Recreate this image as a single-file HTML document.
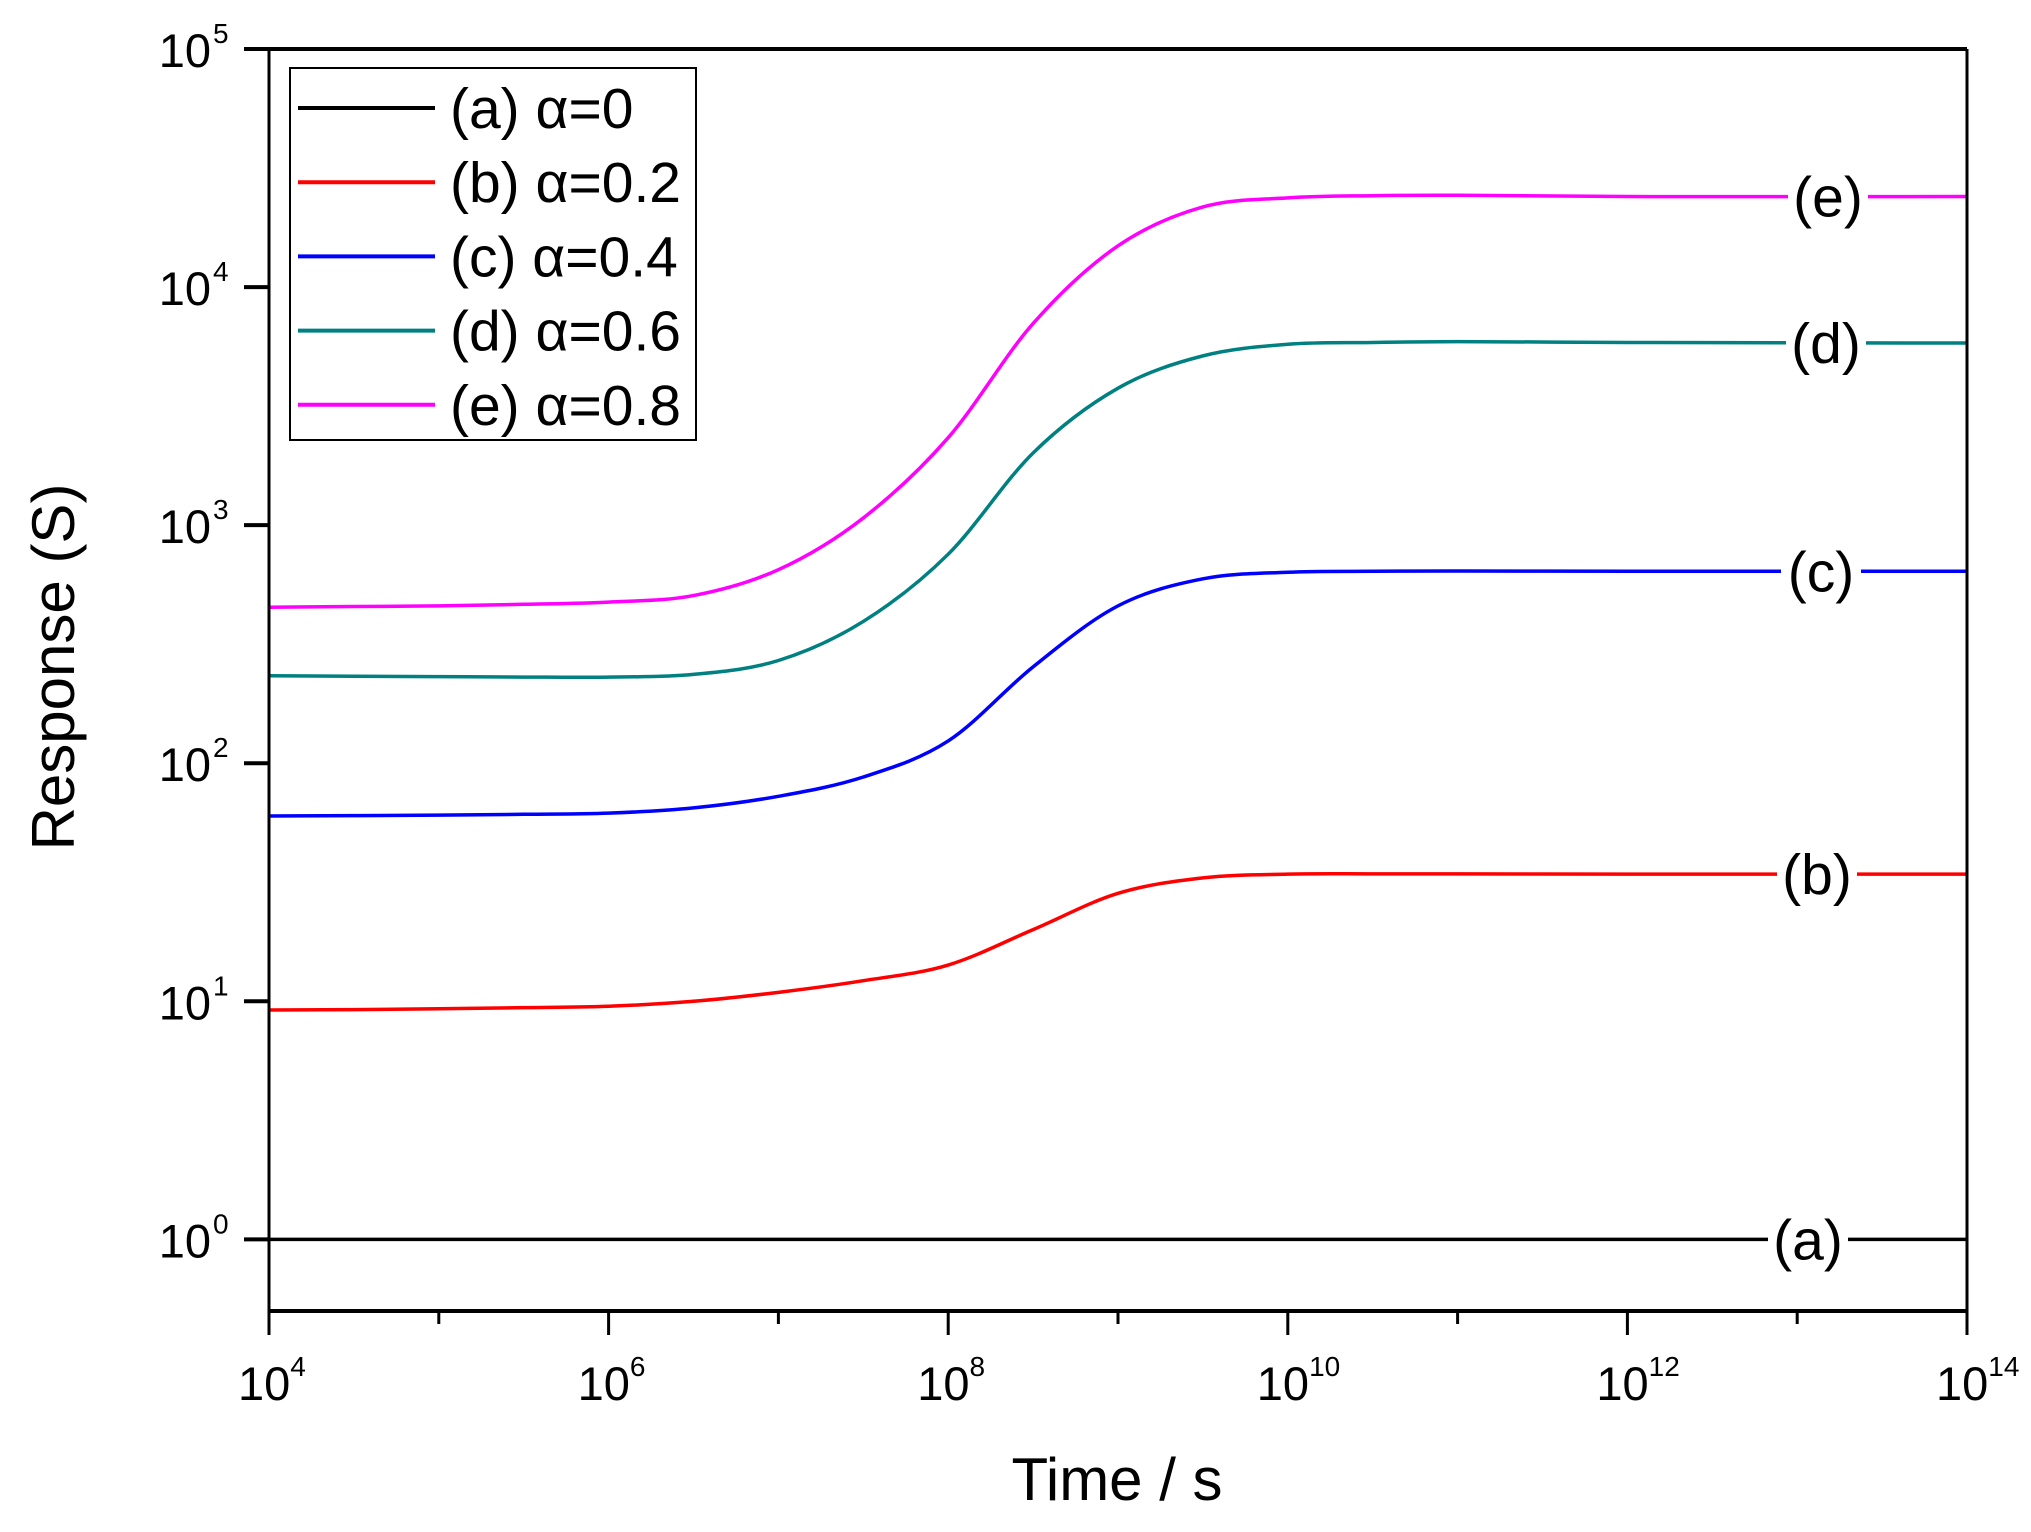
<!DOCTYPE html>
<html><head><meta charset="utf-8"><style>
html,body{margin:0;padding:0;background:#fff;}
svg{display:block;}
.tk{font-family:"Liberation Sans",sans-serif;font-size:47px;fill:#000;}
.sup{font-size:28px;}
.lg{font-family:"Liberation Sans",sans-serif;font-size:57px;fill:#000;}
.ttl{font-family:"Liberation Sans",sans-serif;font-size:60px;fill:#000;}
</style></head><body>
<svg id="chart" width="2031" height="1532" viewBox="0 0 2031 1532">
<g id="plot"></g>
</svg>
<script>
const xExp = [4, 4.5, 5, 5.5, 6, 6.5, 7, 7.5, 8, 8.5, 9, 9.5, 10, 10.5, 11, 12, 14];
const seriesA = [1, 1, 1, 1, 1, 1, 1, 1, 1, 1, 1, 1, 1, 1, 1, 1, 1];
const seriesB = [9.19, 9.22, 9.3, 9.4, 9.53, 10.0, 10.9, 12.2, 14.2, 20, 28.4, 33, 34.2, 34.3, 34.3, 34.2, 34.2];
const seriesC = [60, 60.2, 60.5, 61, 61.7, 64.9, 72.6, 87.5, 124, 254, 458, 595, 634, 640, 642, 640, 640];
const seriesD = [233, 232, 231, 230, 230, 236, 270, 394, 755, 2010, 3760, 5140, 5750, 5850, 5900, 5850, 5820];
const seriesE = [452, 455, 458, 465, 475, 506, 650, 1072, 2330, 7030, 14900, 21700, 23700, 24200, 24300, 24000, 24000];
const seriesNames = ["(a) α=0", "(b) α=0.2", "(c) α=0.4", "(d) α=0.6", "(e) α=0.8"];
const curveTags = ["(a)", "(b)", "(c)", "(d)", "(e)"];
const xTickExp = [4, 6, 8, 10, 12, 14];
const xMinorExp = [5, 7, 9, 11, 13];
const yTickExp = [0, 1, 2, 3, 4, 5];

const X0 = 269, X1 = 1967, Y0 = 1311, Y1 = 49;
const xMin = 4, xMax = 14, yMin = Math.log10(0.5), yMax = 5;
function xs(e){ return X0 + (e - xMin) / (xMax - xMin) * (X1 - X0); }
function ys(v){ return Y0 - (Math.log10(v) - yMin) / (yMax - yMin) * (Y0 - Y1); }
const NS = "http://www.w3.org/2000/svg";
const svg = document.getElementById('chart');
function mk(tag, attrs, parent){ const el = document.createElementNS(NS, tag); for (const k in attrs) el.setAttribute(k, attrs[k]); (parent||svg).appendChild(el); return el; }

const colors = ["#000000", "#ff0000", "#0000ff", "#008080", "#ff00ff"];
const all = [seriesA, seriesB, seriesC, seriesD, seriesE];

function pathFor(vals){
  const p = xExp.map((e,i)=>[xs(e), ys(vals[i])]);
  let d = "M" + p[0][0] + "," + p[0][1];
  for (let i=0;i<p.length-1;i++){
    const p0 = p[Math.max(0,i-1)], p1 = p[i], p2 = p[i+1], p3 = p[Math.min(p.length-1,i+2)];
    const h = p2[0]-p1[0];
    const s1 = (p2[1]-p0[1])/(p2[0]-p0[0]||1), s2 = (p3[1]-p1[1])/(p3[0]-p1[0]||1);
    d += " C" + (p1[0]+h/3) + "," + (p1[1]+s1*h/3) + " " + (p2[0]-h/3) + "," + (p2[1]-s2*h/3) + " " + p2[0] + "," + p2[1];
  }
  return d;
}

const plot = document.getElementById('plot');
all.forEach((vals, i) => {
  const path = mk('path', {d: pathFor(vals), fill: 'none', stroke: colors[i], 'stroke-width': 3.5}, plot);
  
  
  const lastV = vals[vals.length-1];
  const ly = ys(lastV);
  const lx = [1808, 1817, 1821, 1826, 1828][i];
  const bg = mk('rect', {x: lx - 40, y: ly - 22, width: 80, height: 44, fill: '#fff'}, plot);
  
  
  const t = mk('text', {x: lx, y: ly + 20, 'text-anchor': 'middle', class: 'lg'}, plot);
  t.textContent = curveTags[i];
  
  
});

const fr = [[X0,Y1,X1,Y1,4],[X0,Y0,X1,Y0,4],[X0,Y1,X0,Y0,3],[X1,Y1,X1,Y0,3]];
fr.forEach(f => {
  const l = mk('line', {x1:f[0], y1:f[1], x2:f[2], y2:f[3], stroke:'#000', 'stroke-width':f[4]});
  
  
});

xTickExp.forEach(e => {
  const x = xs(e);
  const l = mk('line', {x1:x, y1:Y0, x2:x, y2:Y0+24, stroke:'#000', 'stroke-width':3});
  
  
  const t = mk('text', {x:x-31, y:1400, class:'tk'});
  t.innerHTML = '10<tspan class="sup" dy="-24">' + e + '</tspan>';
  
  
});
xMinorExp.forEach(e => {
  const x = xs(e);
  const l = mk('line', {x1:x, y1:Y0, x2:x, y2:Y0+13, stroke:'#000', 'stroke-width':3});
  
  
});
yTickExp.forEach(e => {
  const y = ys(Math.pow(10, e));
  const l = mk('line', {x1:X0-25, y1:y, x2:X0, y2:y, stroke:'#000', 'stroke-width':4});
  
  
  const t = mk('text', {x:211, y:y+18, 'text-anchor':'end', class:'tk'});
  t.textContent = '10';
  
  
  const s = mk('text', {x:213, y:y-6, class:'tk sup'});
  s.textContent = String(e);
  
  
});

const xt = mk('text', {x:1117, y:1500, 'text-anchor':'middle', class:'ttl'});
xt.textContent = 'Time / s';


const yt = mk('text', {x:0, y:0, 'text-anchor':'middle', class:'ttl', transform:'translate(74,667) rotate(-90)'});
yt.textContent = 'Response (S)';



const lg = mk('g', {});


const box = mk('rect', {x:290, y:68, width:406, height:372, fill:'#fff', stroke:'#000', 'stroke-width':2}, lg);


seriesNames.forEach((n, i) => {
  const y = 108 + i * 74.2;
  const l = mk('line', {x1:298, y1:y, x2:435, y2:y, stroke:colors[i], 'stroke-width':4}, lg);
  
  
  const t = mk('text', {x:450, y:y+20, class:'lg'}, lg);
  t.textContent = n;
  
  
});
</script>
</body></html>
